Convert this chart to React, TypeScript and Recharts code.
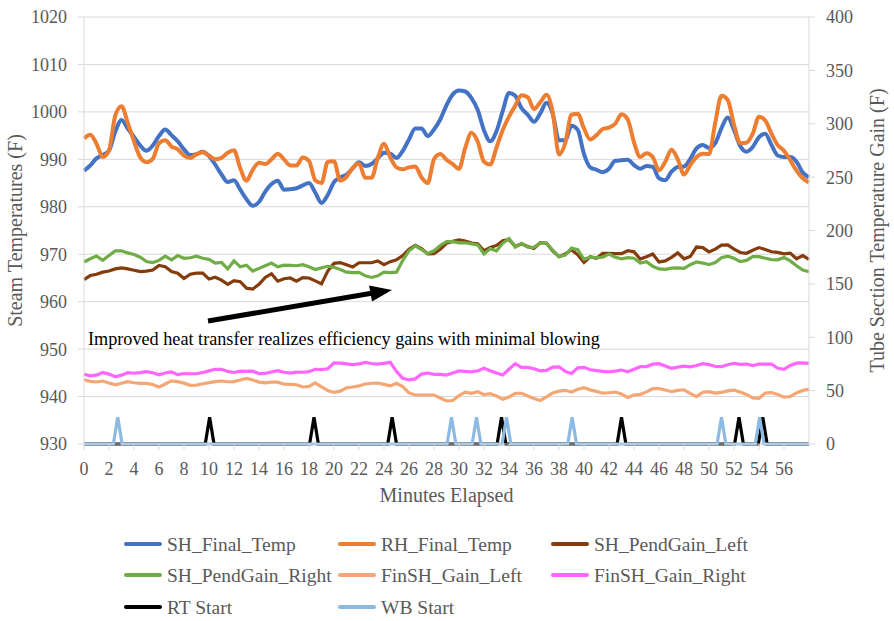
import React from 'react';
import { LineChart, Line, XAxis, YAxis, CartesianGrid } from 'recharts';

// minutes sampled every 30 s
const minutes = Array.from({ length: 117 }, (_, i) => i * 0.5);
const xTicks = [0, 2, 4, 6, 8, 10, 12, 14, 16, 18, 20, 22, 24, 26, 28, 30, 32, 34, 36, 38, 40, 42, 44, 46, 48, 50, 52, 54, 56];
const leftTicks = [930, 940, 950, 960, 970, 980, 990, 1000, 1010, 1020];
const rightTicks = [0, 50, 100, 150, 200, 250, 300, 350, 400];

// Steam temperatures (F), left axis
const shFinalTemp = [
  987.6, 988.7, 990.2, 990.9, 991.8, 995.8, 998.3, 996.5, 994.7, 992.9,
  991.8, 992.9, 994.9, 996.3, 995.1, 993.8, 992.1, 990.9, 991.1, 991.6,
  990.7, 988.9, 986.8, 985.2, 985.6, 983.6, 981.6, 980.2, 981.0, 983.2,
  984.8, 985.5, 983.6, 983.7, 983.9, 984.5, 985.0, 983.0, 980.8, 982.5,
  985.2, 986.2, 986.8, 988.1, 989.4, 988.6, 989.0, 990.2, 991.4, 991.2,
  990.3, 991.8, 994.2, 996.5, 996.5, 994.9, 996.3, 998.4, 1001.4, 1003.7,
  1004.5, 1004.3, 1002.9, 1000.4, 996.1, 993.8, 995.9, 1000.2, 1004.0, 1003.4,
  1000.8, 999.4, 997.9, 999.7, 1001.9, 999.6, 994.0, 994.0, 997.1, 996.2,
  991.1, 988.3, 987.8, 987.3, 988.0, 989.7, 989.8, 989.9, 988.8, 988.0,
  988.6, 988.4, 986.0, 985.6, 987.4, 988.4, 988.5, 990.1, 992.3, 993.0,
  992.4, 993.4, 996.6, 998.8, 996.2, 992.8, 991.6, 992.6, 994.7, 995.4,
  993.0, 990.8, 990.5, 990.5, 989.5, 987.2, 986.2,
];
const rhFinalTemp = [
  994.4, 995.2, 993.3, 990.5, 991.9, 999.2, 1001.2, 997.7, 993.8, 990.4,
  989.4, 990.1, 993.4, 994.0, 992.7, 992.1, 990.8, 990.3, 991.1, 991.5,
  990.8, 990.0, 990.3, 991.4, 991.9, 988.1, 985.5, 987.8, 989.3, 989.0,
  990.0, 991.2, 990.0, 988.7, 988.7, 990.4, 989.7, 985.6, 985.0, 989.5,
  989.6, 985.5, 986.3, 988.2, 989.1, 986.1, 986.1, 990.3, 993.3, 990.4,
  988.3, 987.9, 988.3, 988.5, 986.2, 985.0, 990.0, 991.1, 989.9, 989.0,
  988.0, 992.4, 995.6, 993.7, 989.5, 988.9, 992.5, 996.2, 999.0, 1001.3,
  1003.5, 1003.1, 1000.6, 1002.0, 1003.6, 999.9, 991.0, 993.4, 999.4, 999.6,
  996.5, 994.2, 995.1, 996.4, 996.7, 997.5, 999.5, 998.4, 993.6, 990.5,
  991.3, 990.5, 987.7, 989.5, 992.0, 990.0, 986.8, 988.8, 990.5, 991.2,
  991.1, 997.7, 1003.4, 1002.5, 997.3, 993.4, 993.5, 995.4, 999.0, 998.2,
  995.4, 993.0, 991.8, 989.8, 987.6, 986.0, 985.1,
];

// Tube section gains (F), right axis
const shPendGainLeft = [
  154.0, 157.8, 159.0, 161.0, 162.0, 164.0, 165.0, 164.0, 162.8, 161.5,
  162.0, 163.0, 167.3, 166.0, 161.5, 160.0, 155.0, 159.0, 160.0, 160.0,
  154.5, 156.2, 153.5, 149.5, 153.0, 152.0, 146.0, 145.2, 149.5, 156.0,
  159.5, 152.5, 154.8, 155.5, 152.5, 155.8, 155.5, 152.8, 150.0, 162.0,
  169.2, 169.8, 168.0, 165.8, 169.8, 169.8, 169.8, 171.5, 168.0, 170.8,
  172.5, 176.5, 182.5, 186.2, 183.0, 178.0, 178.3, 182.5, 188.0, 189.8,
  191.2, 190.0, 188.3, 187.6, 181.0, 184.0, 186.0, 190.5, 191.5, 185.0,
  187.5, 185.0, 183.2, 188.6, 188.1, 181.0, 175.5, 178.0, 182.0, 177.2,
  170.0, 175.3, 173.9, 178.5, 178.6, 178.3, 178.3, 181.0, 180.0, 173.3,
  175.5, 178.0, 170.5, 171.5, 174.8, 179.0, 173.5, 175.6, 184.5, 184.0,
  180.0, 182.5, 186.3, 186.5, 182.6, 179.4, 178.7, 181.5, 184.0, 182.2,
  180.1, 179.5, 178.2, 178.8, 173.5, 176.5, 173.0,
];
const shPendGainRight = [
  170.5, 173.5, 176.0, 172.0, 176.5, 181.0, 181.0, 179.0, 177.5, 175.0,
  171.0, 170.0, 172.0, 176.0, 172.5, 176.5, 174.0, 174.5, 176.0, 174.0,
  173.0, 169.5, 170.0, 164.0, 171.5, 166.0, 167.5, 162.0, 164.5, 167.0,
  169.5, 166.0, 167.5, 167.3, 167.0, 168.0, 166.0, 163.5, 165.0, 166.5,
  165.5, 163.5, 161.0, 160.5, 160.8, 157.5, 156.0, 157.5, 161.0, 160.5,
  161.0, 172.0, 181.0, 185.5, 182.0, 178.5, 181.0, 186.0, 189.5, 189.5,
  188.5, 188.5, 187.5, 186.5, 178.0, 183.0, 181.0, 188.0, 192.5, 184.5,
  188.0, 184.5, 184.3, 188.5, 188.2, 181.5, 175.5, 177.0, 183.5, 182.0,
  173.0, 175.0, 174.5, 175.0, 178.0, 175.0, 173.5, 174.5, 174.0, 169.5,
  170.8, 166.5, 164.0, 163.6, 164.7, 165.0, 164.6, 168.0, 170.5, 169.5,
  168.0, 170.0, 174.5, 176.0, 174.0, 170.8, 172.0, 175.5, 175.5, 174.0,
  172.8, 172.5, 174.7, 171.5, 167.0, 163.0, 161.4,
];
const finShGainLeft = [
  60.2, 58.7, 58.1, 59.0, 57.2, 55.5, 56.9, 58.4, 57.4, 56.8,
  56.8, 55.7, 53.3, 56.2, 59.2, 58.4, 57.0, 55.0, 55.2, 56.4,
  57.5, 58.5, 59.0, 58.3, 58.5, 60.0, 61.5, 60.0, 58.0, 57.2,
  58.0, 57.9, 56.0, 55.8, 55.5, 53.4, 53.9, 57.2, 53.5, 50.2,
  48.3, 49.5, 52.6, 53.4, 54.5, 56.2, 56.9, 57.1, 55.8, 54.4,
  56.9, 53.8, 47.8, 45.9, 45.9, 45.9, 45.9, 43.1, 40.3, 40.7,
  45.4, 48.6, 47.4, 48.9, 46.2, 47.2, 44.9, 41.9, 44.1, 47.4,
  47.5, 44.9, 42.7, 40.8, 44.1, 47.8, 49.5, 50.3, 48.7, 51.3,
  52.7, 50.7, 49.3, 47.6, 48.0, 48.7, 46.9, 43.6, 45.8, 46.5,
  48.8, 51.8, 51.9, 50.6, 49.0, 50.2, 50.8, 47.5, 44.4, 48.5,
  49.0, 47.7, 48.4, 49.8, 50.5, 48.6, 46.4, 43.2, 42.8, 47.7,
  48.2, 46.3, 43.9, 44.5, 47.8, 50.2, 51.2,
];
const finShGainRight = [
  65.3, 63.8, 64.5, 67.0, 65.5, 63.0, 64.5, 66.8, 66.3, 66.8,
  67.8, 66.8, 64.8, 66.5, 67.5, 65.0, 66.0, 65.8, 66.0, 67.0,
  68.5, 70.0, 70.0, 68.0, 67.0, 68.2, 68.0, 68.2, 66.0, 66.2,
  67.5, 68.7, 67.2, 66.5, 67.4, 67.2, 67.8, 70.0, 69.6, 70.5,
  76.0, 75.8, 75.0, 74.3, 75.0, 76.4, 75.4, 74.8, 75.5, 76.5,
  68.0, 61.6, 60.0, 61.0, 65.5, 66.5, 65.2, 65.3, 64.6, 66.5,
  68.5, 68.0, 67.7, 68.5, 71.0, 68.7, 66.5, 64.6, 70.0, 75.3,
  71.8, 71.8, 70.5, 68.5, 69.0, 72.0, 72.3, 68.0, 66.0, 71.4,
  71.8, 69.5, 68.8, 68.0, 67.7, 68.2, 69.3, 67.7, 70.1, 72.4,
  72.5, 74.8, 75.2, 73.0, 70.9, 72.0, 73.0, 72.2, 73.5, 75.2,
  74.4, 72.6, 72.4, 74.2, 75.6, 74.6, 74.9, 73.5, 74.9, 74.9,
  74.9, 70.9, 69.9, 73.6, 75.7, 76.0, 75.6,
];

// blowing events (minute of start), drawn as pulses on the right axis
const rtStartMinutes = [10.05, 18.4, 24.65, 33.4, 43.0, 52.4, 54.3];
const wbStartMinutes = [2.7, 29.4, 31.4, 33.8, 39.05, 51.0, 54.05];
const pulseHeight = 25;
const pulseHalfWidth = 0.35;

const table = minutes.map((t, i) => ({
  t,
  shFinal: shFinalTemp[i],
  rhFinal: rhFinalTemp[i],
  pendLeft: shPendGainLeft[i],
  pendRight: shPendGainRight[i],
  finLeft: finShGainLeft[i],
  finRight: finShGainRight[i],
}));

const pulses = (starts: number[]) => {
  const pts = [{ t: 0, v: 0 }];
  starts.forEach((s) => {
    pts.push({ t: s - pulseHalfWidth, v: 0 }, { t: s, v: pulseHeight }, { t: s + pulseHalfWidth, v: 0 });
  });
  pts.push({ t: 58, v: 0 });
  return pts;
};
const rtData = pulses(rtStartMinutes);
const wbData = pulses(wbStartMinutes);

const FONT = "'Liberation Serif', 'Times New Roman', serif";
const GREY = '#595959';

const legendItems = [
  { name: 'SH_Final_Temp', color: '#4472C4', x: 126, y: 544 },
  { name: 'RH_Final_Temp', color: '#ED7D31', x: 340, y: 544 },
  { name: 'SH_PendGain_Left', color: '#843C0C', x: 553, y: 544 },
  { name: 'SH_PendGain_Right', color: '#70AD47', x: 126, y: 575 },
  { name: 'FinSH_Gain_Left', color: '#F4A674', x: 340, y: 575 },
  { name: 'FinSH_Gain_Right', color: '#FF66FF', x: 553, y: 575 },
  { name: 'RT Start', color: '#000000', x: 126, y: 607 },
  { name: 'WB Start', color: '#8DBAE3', x: 340, y: 607 },
];

const tickStyle = { fontSize: 18, fill: GREY, fontFamily: FONT };

export default function App() {
  return (
    <div style={{ position: 'absolute', left: 0, top: 0, width: 894, height: 621, background: '#fff' }}>
      <LineChart width={894} height={621} data={table} margin={{ top: 17, right: 0, left: 0, bottom: 115 }}>
        <CartesianGrid yAxisId="left" vertical={false} stroke="#D9D9D9" />
        <XAxis
          type="number"
          dataKey="t"
          domain={[0, 58]}
          ticks={xTicks}
          interval={0}
          height={62}
          tickSize={6}
          tickMargin={12}
          tick={tickStyle}
          axisLine={{ stroke: '#D9D9D9' }}
          tickLine={{ stroke: '#D9D9D9' }}
          label={{ value: 'Minutes Elapsed', position: 'insideBottom', offset: 4, fontSize: 20, fill: GREY, fontFamily: FONT }}
        />
        <YAxis
          yAxisId="left"
          width={84}
          domain={[930, 1020]}
          ticks={leftTicks}
          interval={0}
          tickSize={6}
          tickMargin={11}
          tick={tickStyle}
          axisLine={{ stroke: '#D9D9D9' }}
          tickLine={{ stroke: '#D9D9D9' }}
          label={{
            value: 'Steam Temperatures (F)',
            angle: -90,
            position: 'insideLeft',
            offset: 15,
            fontSize: 20,
            fill: GREY,
            fontFamily: FONT,
            style: { textAnchor: 'middle' },
          }}
        />
        <YAxis
          yAxisId="right"
          orientation="right"
          width={85}
          domain={[0, 400]}
          ticks={rightTicks}
          interval={0}
          tickSize={6}
          tickMargin={11}
          tick={tickStyle}
          axisLine={{ stroke: '#D9D9D9' }}
          tickLine={{ stroke: '#D9D9D9' }}
          label={{
            value: 'Tube Section Temperature Gain (F)',
            angle: -90,
            position: 'insideRight',
            offset: 17,
            fontSize: 20,
            fill: GREY,
            fontFamily: FONT,
            style: { textAnchor: 'middle' },
          }}
        />
        <Line yAxisId="left" type="monotone" dataKey="shFinal" stroke="#4472C4" strokeWidth={4} dot={false} isAnimationActive={false} />
        <Line yAxisId="left" type="monotone" dataKey="rhFinal" stroke="#ED7D31" strokeWidth={4} dot={false} isAnimationActive={false} />
        <Line yAxisId="right" type="linear" dataKey="pendLeft" stroke="#843C0C" strokeWidth={3.2} dot={false} isAnimationActive={false} />
        <Line yAxisId="right" type="linear" dataKey="pendRight" stroke="#70AD47" strokeWidth={3.2} dot={false} isAnimationActive={false} />
        <Line yAxisId="right" type="linear" dataKey="finLeft" stroke="#F4A674" strokeWidth={3.2} dot={false} isAnimationActive={false} />
        <Line yAxisId="right" type="linear" dataKey="finRight" stroke="#FF66FF" strokeWidth={3.2} dot={false} isAnimationActive={false} />
        <Line yAxisId="right" type="linear" data={rtData} dataKey="v" stroke="#000000" strokeWidth={3.2} dot={false} isAnimationActive={false} />
        <Line yAxisId="right" type="linear" data={wbData} dataKey="v" stroke="#8DBAE3" strokeWidth={3.2} dot={false} isAnimationActive={false} />
      </LineChart>

      {/* annotation and legend */}
      <svg width={894} height={621} style={{ position: 'absolute', left: 0, top: 0, pointerEvents: 'none' }}>
        <line x1={208} y1={321} x2={373} y2={293} stroke="#000" strokeWidth={5} />
        <polygon points="392,290 369,285.5 372,301.5" fill="#000" />
        <text x={88} y={345} fontSize={18.2} fontFamily={FONT} fill="#000">
          Improved heat transfer realizes efficiency gains with minimal blowing
        </text>
        {legendItems.map((it) => (
          <g key={it.name}>
            <line x1={it.x} y1={it.y} x2={it.x + 34} y2={it.y} stroke={it.color} strokeWidth={4} strokeLinecap="round" />
            <text x={it.x + 41} y={it.y} dominantBaseline="central" fontSize={19.5} fontFamily={FONT} fill={GREY}>
              {it.name}
            </text>
          </g>
        ))}
      </svg>
    </div>
  );
}
